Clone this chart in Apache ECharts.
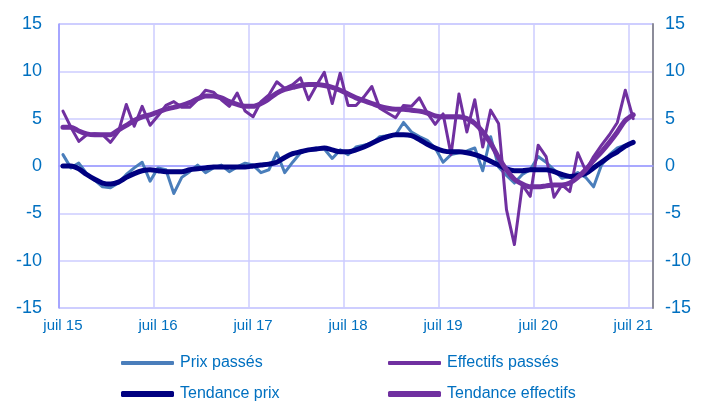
<!DOCTYPE html>
<html>
<head>
<meta charset="utf-8">
<script src="https://cdn.jsdelivr.net/npm/echarts@6/dist/echarts.min.js"></script>
<style>
  html, body { margin: 0; padding: 0; background: #fff; }
  #chart { width: 702px; height: 405px; }
</style>
</head>
<body>
<div id="chart"></div>
<script>
// mois de juil 15 à sept 21 (l'axe va un peu au-delà des données)
const moisFr = ["juil", "août", "sept", "oct", "nov", "déc", "janv", "févr", "mars", "avr", "mai", "juin"];
const months = [];
for (let i = 0; i < 75; i++) {
  const yr = 15 + Math.floor((i + 6) / 12);
  months.push(moisFr[i % 12] + " " + yr);
}

const yTicks = [-15, -10, -5, 0, 5, 10, 15];

// juil 15 -> juil 21, un point par mois
const prixPasses = [
  1.2, -0.2, 0.3, -0.8, -1.5, -2.2, -2.3, -1.8, -0.9, -0.2,
  0.4, -1.6, -0.2, -0.4, -2.9, -1.2, -0.6, 0.1, -0.7, -0.2,
  0.1, -0.6, -0.1, 0.3, 0.1, -0.7, -0.4, 1.4, -0.7, 0.4,
  1.4, 1.7, 1.9, 1.8, 0.8, 1.7, 1.2, 2.0, 2.2, 2.4,
  3.1, 3.2, 3.3, 4.6, 3.6, 3.1, 2.7, 1.9, 0.4, 1.2,
  1.4, 1.6, 1.9, -0.5, 3.1, -0.1, -1.0, -1.8, -0.9, -0.4,
  1.0, 0.4, -0.4, -1.3, -1.1, -0.7, -1.2, -2.2, 0.1, 1.2,
  1.9, 2.2, 2.5
];

const effectifsPasses = [
  5.8, 4.1, 2.6, 3.3, 3.4, 3.3, 2.5, 3.6, 6.5, 4.2,
  6.3, 4.3, 5.3, 6.4, 6.8, 6.2, 6.2, 7.0, 8.0, 7.8,
  7.0, 6.3, 7.7, 5.8, 5.2, 6.8, 7.5, 8.9, 8.2, 8.6,
  9.3, 7.0, 8.5, 9.9, 6.6, 9.8, 6.4, 6.4, 7.3, 8.4,
  6.1, 5.6, 5.1, 6.4, 6.3, 7.2, 5.6, 4.4, 5.5, 1.2,
  7.6, 3.6, 7.0, 2.0, 5.9, 4.5, -4.6, -8.3, -2.0, -3.2,
  2.2, 1.0, -3.3, -2.0, -2.7, 1.4, -0.5, 1.0, 2.2, 3.3,
  4.6, 8.0, 5.0
];

const tendancePrix = [
  0.0, 0.0, -0.3, -0.9, -1.4, -1.8, -1.9, -1.7, -1.2, -0.8,
  -0.5, -0.4, -0.5, -0.6, -0.6, -0.6, -0.4, -0.3, -0.2, -0.1,
  -0.1, -0.1, -0.1, -0.1, 0.0, 0.1, 0.2, 0.4, 0.9, 1.3,
  1.5, 1.7, 1.8, 1.9, 1.7, 1.5, 1.5, 1.7, 2.0, 2.4,
  2.8, 3.1, 3.3, 3.3, 3.2, 2.8, 2.3, 1.9, 1.6, 1.5,
  1.5, 1.4, 1.2, 0.9, 0.5, 0.1, -0.3, -0.5, -0.5, -0.4,
  -0.4, -0.4, -0.6, -0.9, -1.1, -1.0, -0.8, -0.2, 0.4, 1.0,
  1.5, 2.1, 2.5
];

const tendanceEffectifs = [
  4.1, 4.1, 3.7, 3.4, 3.3, 3.3, 3.3, 3.8, 4.3, 4.8,
  5.2, 5.4, 5.7, 6.0, 6.2, 6.4, 6.7, 7.1, 7.4, 7.4,
  7.2, 6.8, 6.5, 6.3, 6.3, 6.6, 7.1, 7.7, 8.1, 8.3,
  8.5, 8.6, 8.6, 8.5, 8.3, 8.0, 7.6, 7.2, 6.9, 6.6,
  6.3, 6.1, 6.0, 6.0, 5.9, 5.8, 5.6, 5.3, 5.2, 5.2,
  5.2, 5.0, 4.5, 3.6, 2.4, 0.9, -0.4, -1.4, -1.9, -2.2,
  -2.2, -2.1, -2.0, -2.0, -1.8, -1.2, -0.4, 0.6, 1.5, 2.5,
  3.6, 4.8, 5.4
];

const font = "'Liberation Sans', Arial, sans-serif";
const txtColor = "#0070c0";
const everyYear = (idx) => idx % 12 === 0;

// une légende par entrée pour placer les 2 colonnes comme dans l'original
function legendItem(name, left, top, h) {
  return {
    left: left,
    top: top,
    icon: "roundRect",
    itemWidth: 53,
    itemHeight: h,
    textStyle: { color: txtColor, fontSize: 16, fontFamily: font, padding: [0, 0, 0, 1] },
    data: [name],
  };
}

const myChart = echarts.init(document.getElementById("chart"));
let option;
option = {
  animation: false,
  textStyle: { fontFamily: font },
  grid: {
    left: 59,
    right: 49,
    top: 24,
    bottom: 97,
    show: true,
    borderColor: "#a9a9ff",
    borderWidth: 1,
  },
  legend: [
    legendItem("Prix passés", 116, 350, 4),
    legendItem("Tendance prix", 116, 381, 6),
    legendItem("Effectifs passés", 383, 350, 4),
    legendItem("Tendance effectifs", 383, 381, 6),
  ],
  xAxis: {
    type: "category",
    data: months,
    boundaryGap: true,
    axisLine: { lineStyle: { color: "#9999ff", width: 1.5 } },
    axisTick: { show: false },
    axisLabel: {
      interval: everyYear,
      color: txtColor,
      fontSize: 15,
      margin: 10,
      fontFamily: font,
    },
    splitLine: {
      show: true,
      interval: everyYear,
      lineStyle: { color: "#ccccff", width: 1.5 },
    },
  },
  yAxis: [
    {
      type: "value",
      min: yTicks[0],
      max: yTicks[yTicks.length - 1],
      interval: 5,
      axisLine: { show: true, lineStyle: { color: "#9999ff", width: 1.5 } },
      axisTick: { show: false },
      axisLabel: { color: txtColor, fontSize: 18, margin: 17, fontFamily: font },
      splitLine: { lineStyle: { color: "#ccccff", width: 1.5 } },
    },
    {
      type: "value",
      position: "right",
      min: yTicks[0],
      max: yTicks[yTicks.length - 1],
      interval: 5,
      axisLine: { show: true, lineStyle: { color: "#8c8c99", width: 2 } },
      axisTick: { show: false },
      axisLabel: { color: txtColor, fontSize: 18, margin: 12, fontFamily: font },
      splitLine: { show: false },
    },
  ],
  series: [
    {
      name: "Prix passés",
      type: "line",
      data: prixPasses,
      symbol: "none",
      lineStyle: { color: "#4a7ebb", width: 3, cap: "round", join: "round" },
      itemStyle: { color: "#4a7ebb" },
    },
    {
      name: "Effectifs passés",
      type: "line",
      data: effectifsPasses,
      symbol: "none",
      lineStyle: { color: "#7030a0", width: 3, cap: "round", join: "round" },
      itemStyle: { color: "#7030a0" },
    },
    {
      name: "Tendance prix",
      type: "line",
      data: tendancePrix,
      symbol: "none",
      smooth: 0.3,
      lineStyle: { color: "#000080", width: 5, cap: "round", join: "round" },
      itemStyle: { color: "#000080" },
    },
    {
      name: "Tendance effectifs",
      type: "line",
      data: tendanceEffectifs,
      symbol: "none",
      smooth: 0.3,
      lineStyle: { color: "#7030a0", width: 5, cap: "round", join: "round" },
      itemStyle: { color: "#7030a0" },
    },
  ],
};
option && myChart.setOption(option);
</script>
</body>
</html>
